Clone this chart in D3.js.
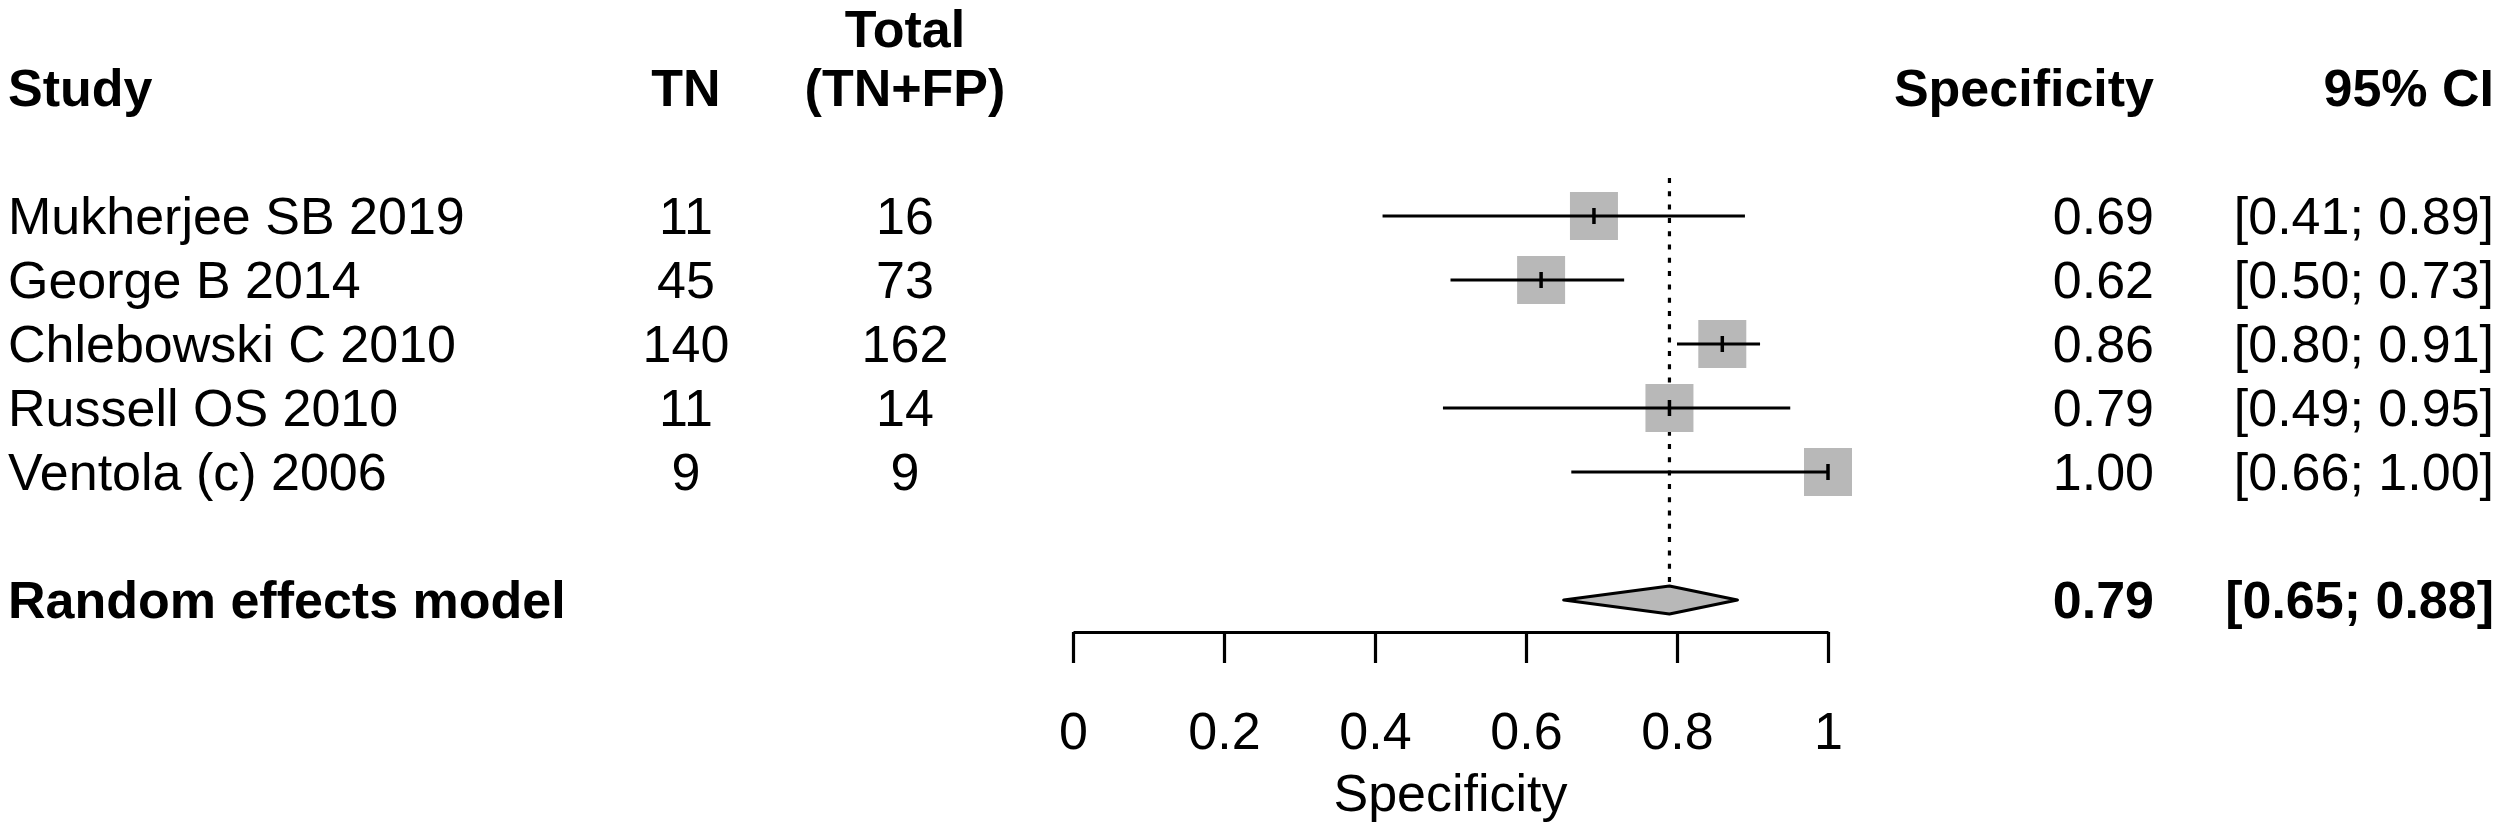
<!DOCTYPE html>
<html>
<head>
<meta charset="utf-8">
<script src="https://cdn.jsdelivr.net/npm/d3@7"></script>
<style>
  body { margin: 0; background: #fff; }
  text { font-family: "Liberation Sans", Arial, Helvetica, sans-serif; fill: #000; }
</style>
</head>
<body>
<script>
// study rows
var studies = ["Mukherjee SB 2019", "George B 2014", "Chlebowski C 2010", "Russell OS 2010", "Ventola (c) 2006"];
var tn = [11, 45, 140, 11, 9];
var total = [16, 73, 162, 14, 9];
var spec = [0.69, 0.62, 0.86, 0.79, 1.00];
var lower = [0.41, 0.50, 0.80, 0.49, 0.66];
var upper = [0.89, 0.73, 0.91, 0.95, 1.00];

// pooled estimate
var pooledLabel = "Random effects model";
var pooledEst = 0.79;
var pooledCI = [0.65, 0.88];

var xTicks = [0, 0.2, 0.4, 0.6, 0.8, 1];

var w = 2500, h = 827;
var fs = 52;

var svg = d3.select("body").append("svg")
  .attr("width", w)
  .attr("height", h);

var x = d3.scaleLinear().domain([0, 1]).range([1073, 1828]);
// row index -> vertical centre (headers at -3/-2, studies 0..4, pooled at 6)
var y = d3.scaleLinear().domain([0, 6]).range([216, 600]);
var base = 18; // text baseline offset from row centre

var rows = studies.map(function(s, i){
  return {study: s, tn: tn[i], total: total[i], est: spec[i], lo: lower[i], hi: upper[i], i: i};
});

var fmt = d3.format(".2f");
var ciText = function(lo, hi){ return "[" + fmt(lo) + "; " + fmt(hi) + "]"; };

// column positions
var colStudy = 8, colTN = 686, colTotal = 905, colSpec = 2154, colCI = 2494;

// headers
var hdr = svg.append("g").attr("font-weight", "bold").attr("font-size", fs);
hdr.append("text").attr("x", colStudy).attr("y", y(-2) + base).text("Study");
hdr.append("text").attr("x", colTN).attr("y", y(-2) + base).attr("text-anchor", "middle").text("TN");
hdr.append("text").attr("x", colTotal).attr("y", 47).attr("text-anchor", "middle").text("Total");
hdr.append("text").attr("x", colTotal).attr("y", y(-2) + base).attr("text-anchor", "middle").text("(TN+FP)");
hdr.append("text").attr("x", colSpec).attr("y", y(-2) + base).attr("text-anchor", "end").text("Specificity");
hdr.append("text").attr("x", colCI).attr("y", y(-2) + base).attr("text-anchor", "end").text("95% CI");

// reference line at pooled estimate
svg.append("line")
  .attr("x1", x(pooledEst)).attr("x2", x(pooledEst))
  .attr("y1", y(0) - 38).attr("y2", y(6) - 14)
  .attr("stroke", "#000")
  .attr("stroke-width", 3.2)
  .attr("stroke-dasharray", "5 8.3");

// study rows
var g = svg.selectAll("g.row")
  .data(rows)
  .enter()
  .append("g")
  .attr("class", "row")
  .attr("font-size", fs);

g.append("text").attr("x", colStudy).attr("y", function(d){ return y(d.i) + base; }).text(function(d){ return d.study; });
g.append("text").attr("x", colTN).attr("y", function(d){ return y(d.i) + base; }).attr("text-anchor", "middle").text(function(d){ return d.tn; });
g.append("text").attr("x", colTotal).attr("y", function(d){ return y(d.i) + base; }).attr("text-anchor", "middle").text(function(d){ return d.total; });
g.append("text").attr("x", colSpec).attr("y", function(d){ return y(d.i) + base; }).attr("text-anchor", "end").text(function(d){ return fmt(d.est); });
g.append("text").attr("x", colCI).attr("y", function(d){ return y(d.i) + base; }).attr("text-anchor", "end").text(function(d){ return ciText(d.lo, d.hi); });

var sq = 48;
g.append("rect")
  .attr("x", function(d){ return x(d.est) - sq / 2; })
  .attr("y", function(d){ return y(d.i) - sq / 2; })
  .attr("width", sq)
  .attr("height", sq)
  .attr("fill", "#b8b8b8");

g.append("line")
  .attr("x1", function(d){ return x(d.lo); })
  .attr("x2", function(d){ return x(d.hi); })
  .attr("y1", function(d){ return y(d.i); })
  .attr("y2", function(d){ return y(d.i); })
  .attr("stroke", "#000")
  .attr("stroke-width", 3.2);

g.append("line")
  .attr("x1", function(d){ return x(d.est); })
  .attr("x2", function(d){ return x(d.est); })
  .attr("y1", function(d){ return y(d.i) - 8; })
  .attr("y2", function(d){ return y(d.i) + 8; })
  .attr("stroke", "#000")
  .attr("stroke-width", 3.5);

// pooled row
var p = svg.append("g").attr("font-weight", "bold").attr("font-size", fs);
p.append("text").attr("x", colStudy).attr("y", y(6) + base).text(pooledLabel);
p.append("text").attr("x", colSpec).attr("y", y(6) + base).attr("text-anchor", "end").text(fmt(pooledEst));
p.append("text").attr("x", colCI).attr("y", y(6) + base).attr("text-anchor", "end").text(ciText(pooledCI[0], pooledCI[1]));

var dh = 14;
p.append("path")
  .attr("d", "M" + x(pooledCI[0]) + "," + y(6) +
             "L" + x(pooledEst) + "," + (y(6) - dh) +
             "L" + x(pooledCI[1]) + "," + y(6) +
             "L" + x(pooledEst) + "," + (y(6) + dh) + "Z")
  .attr("fill", "#b8b8b8")
  .attr("stroke", "#000")
  .attr("stroke-width", 3.2)
  .attr("stroke-linejoin", "round");

// x axis
var axis = svg.append("g")
  .attr("transform", "translate(0,632)")
  .call(d3.axisBottom(x)
    .tickValues(xTicks)
    .tickSize(31)
    .tickSizeOuter(0)
    .tickPadding(49)
    .tickFormat(d3.format("~g")));

axis.select(".domain").attr("stroke-width", 3.2);
axis.selectAll(".tick line").attr("stroke-width", 3.2);
axis.selectAll(".tick text")
  .attr("font-size", fs)
  .attr("font-family", "'Liberation Sans', Arial, sans-serif");

svg.append("text")
  .attr("x", (x(0) + x(1)) / 2)
  .attr("y", 811)
  .attr("text-anchor", "middle")
  .attr("font-size", fs)
  .text("Specificity");
</script>
</body>
</html>
